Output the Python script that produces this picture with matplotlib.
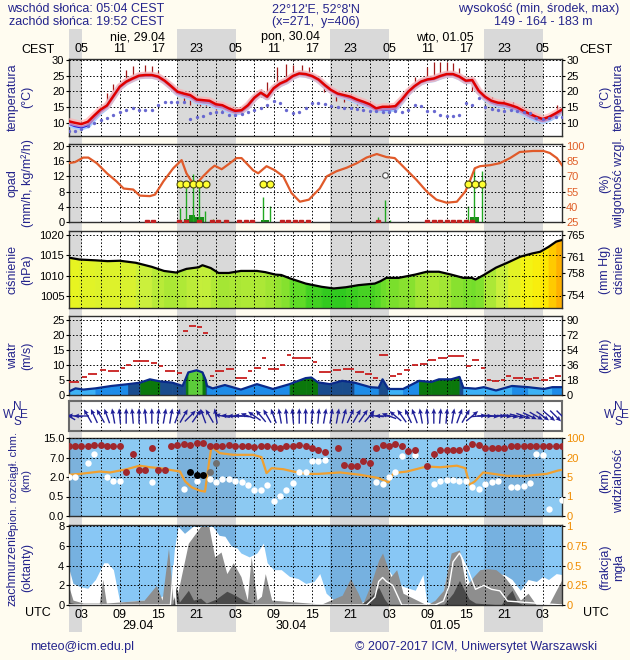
import numpy as np
import matplotlib
matplotlib.use("Agg")
import matplotlib.pyplot as plt
from matplotlib.colors import LinearSegmentedColormap, Normalize, ListedColormap, BoundaryNorm

plt.rcParams['font.family'] = ['Liberation Sans', 'DejaVu Sans']

# ---------------- time axis (hours after 29.04 00 UTC) ----------------
nights = [(0.0, 3.07), (17.87, 27.07), (41.87, 51.07), (65.87, 75.07)]
label_hours = [3, 9, 15, 21, 27, 33, 39, 45, 51, 57, 63, 69, 75]
cest_labels = ['05', '11', '17', '23', '05', '11', '17', '23', '05', '11', '17', '23', '05']
utc_labels = ['03', '09', '15', '21', '03', '09', '15', '21', '03', '09', '15', '21', '03']
day_pos = [11.8, 35.7, 59.7]
day_top = ['nie, 29.04', 'pon, 30.04', 'wto, 01.05']
day_bottom = ['29.04', '30.04', '01.05']

# ---------------- temperature ----------------
hours = np.arange(1, 79)
temp_red = [10.5, 10.0, 9.6, 10.3, 12.3, 14.2, 15.5, 18.5, 21.5, 23.1,
            24.1, 25.0, 25.2, 25.2, 24.7, 23.4, 21.7, 19.9, 19.3, 18.8,
            17.4, 17.2, 17.0, 15.9, 15.6, 14.6, 13.8, 14.0, 15.6, 18.0,
            19.6, 18.3, 21.0, 22.5, 23.4, 24.9, 25.7, 25.5, 24.9, 23.8,
            22.0, 20.4, 19.3, 18.8, 18.3, 17.4, 16.7, 15.9, 14.6, 15.1,
            15.1, 15.3, 17.4, 19.9, 21.7, 23.1, 23.8, 24.1, 24.9, 25.5,
            25.5, 24.7, 23.4, 23.6, 20.2, 18.3, 17.0, 16.4, 16.2, 15.6,
            14.9, 13.8, 12.8, 11.9, 11.2, 11.9, 13.0, 14.2]
temp_blue = [9.8, 9.0, 8.6, 9.2, 11.5, 13.6, 15.2, 18.3, 21.3, 22.9,
             23.9, 24.8, 25.0, 25.0, 24.5, 23.2, 21.5, 19.5, 18.8, 18.2,
             16.9, 16.6, 16.4, 15.3, 15.0, 14.0, 13.3, 13.6, 15.3, 17.8,
             19.4, 18.1, 20.8, 22.3, 23.2, 24.7, 25.5, 25.3, 24.7, 23.6,
             21.8, 20.2, 19.0, 18.4, 17.8, 16.9, 16.1, 15.3, 14.2, 14.3,
             14.3, 14.6, 17.0, 19.6, 21.5, 22.9, 23.6, 23.9, 24.7, 25.3,
             25.3, 24.5, 23.2, 23.4, 20.0, 17.9, 16.5, 15.8, 15.6, 15.0,
             14.3, 13.2, 12.1, 11.2, 10.6, 11.3, 12.4, 13.7]
dew_point = [7.5, 7.3, 8.0, 9.0, 9.8, 10.8, 11.5, 12.5, 13.5, 14.0,
             14.7, 14.2, 14.0, 14.2, 15.6, 16.6, 16.6, 16.6, 16.6, 11.3,
             11.8, 12.2, 13.0, 13.5, 13.5, 12.6, 12.4, 12.8, 13.3, 14.2,
             14.8, 15.6, 16.8, 16.2, 14.0, 13.2, 13.5, 14.8, 16.2, 16.4,
             16.0, 15.2, 15.0, 14.8, 14.6, 14.4, 14.2, 13.8, 13.6, 13.4,
             13.5, 13.6, 13.4, 14.0, 15.6, 15.3, 13.8, 13.8, 12.4, 12.2,
             12.3, 12.5, 16.4, 15.6, 17.8, 14.9, 14.5, 14.2, 13.8, 14.0,
             13.6, 13.4, 13.0, 11.6, 11.3, 11.5, 11.9, 11.9]
spike_h = [7, 8, 10, 11, 13, 14, 15, 19, 20, 21.5, 22.5, 24, 25, 31, 32, 33.5, 35, 36,
           37.5, 38.5, 40.8, 42.8, 44, 46, 55, 57, 58, 59, 60, 61, 62, 64, 65.7, 67,
           68.8, 70.4, 77.2]
spike_lo = [15.9, 19.2, 24.3, 24.3, 25.0, 24.7, 24.4, 16.4, 15.6, 15.5, 15.5, 14.0, 13.8,
            18.3, 18.7, 21.4, 23.0, 25.2, 25.2, 24.7, 19.9, 17.0, 16.7, 15.6, 21.5, 24.2,
            24.7, 25.5, 25.7, 25.7, 24.0, 20.0, 18.3, 16.2, 14.6, 14.6, 13.5]
spike_hi = [19.6, 22.4, 26.9, 28.0, 28.5, 28.0, 26.5, 19.2, 18.8, 17.4, 17.2, 16.2, 15.6,
            20.6, 22.9, 27.8, 28.7, 28.4, 28.4, 27.9, 22.5, 19.9, 18.8, 17.8, 24.7, 27.9,
            29.5, 29.5, 29.5, 28.9, 27.3, 24.0, 19.9, 18.3, 17.2, 16.7, 15.6]

# ---------------- precipitation / humidity ----------------
rh_h = [1.0, 2.0, 3.3, 4.1, 5.4, 7.0, 8.5, 9.6, 11.1, 12.1, 13.7, 14.5, 15.8, 17.35,
        18.65, 19.4, 20.2, 21.0, 22.0, 23.1, 23.8, 24.9, 26.2, 27.2, 28.0, 29.8, 30.6,
        31.9, 33.2, 34.5, 35.8, 37.1, 38.5, 40.2, 41.3, 42.8, 44.4, 46.0, 47.5, 49.1,
        50.6, 51.9, 53.8, 55.3, 56.9, 58.4, 60.0, 61.6, 62.9, 63.6, 64.4, 65.2, 66.8,
        68.3, 69.9, 71.4, 73.5, 75.1, 76.1, 77.2, 78.0]
rh = [83, 84, 88.5, 88.5, 83, 73, 65, 58, 57, 51, 50.5, 52, 65, 78,
      86, 73, 65, 63, 70, 77, 80.5, 77, 83, 88, 88, 76, 73,
      80, 76, 70, 53.5, 45, 47, 58, 70, 75, 78.5, 83, 88.5, 92,
      89, 88, 76, 66.5, 55, 47, 44, 45, 55, 65, 78, 80, 81,
      83, 88, 94, 95, 95, 93, 88, 81]
storm_h = [18.4, 19.4, 20.5, 21.4, 22.4, 31.4, 32.4, 63.4, 64.4, 65.5]
storm_v = [10, 10, 10, 10, 10, 10, 10, 10, 10, 10]
shower_h = [50.4]
shower_v = [12.4]
rain_line_h = [18.4, 19.4, 20.5, 21.4, 22.3, 23.6, 31.4, 32.4, 49.3, 50.4, 51.2, 63.4, 64.3, 65.5]
rain_line_v = [3.8, 8.9, 12.6, 9.4, 3.0, 0.8, 6.7, 4.2, 1.4, 5.8, 0.6, 4.2, 14.3, 13.3]
rain_bar_start = [19.0, 19.8, 20.8, 31.0, 63.6]
rain_bar_end = [19.8, 20.8, 22.2, 32.3, 65.0]
rain_bar_v = [0.8, 1.8, 1.2, 0.6, 1.2]
drizzle_h = [13.2, 14.2, 18.3, 19.3, 21.3, 23.4, 24.4, 25.5, 27.6, 28.7, 29.7, 34.3, 35.3,
             36.3, 37.3, 38.3, 49.3, 57, 58, 59, 60, 61, 62, 63, 64]

# ---------------- pressure ----------------
pres_h = [0.9, 2.7, 5.2, 7.1, 9.0, 11.5, 14.0, 15.9, 17.8, 19.4, 21.3, 21.9, 23.2, 24.4,
          26.0, 27.9, 30.4, 31.7, 33.3, 34.2, 35.5, 38.0, 40.5, 42.4, 44.3, 46.2, 48.8,
          49.7, 50.6, 52.5, 55.1, 56.9, 58.8, 60.7, 62.6, 63.9, 64.5, 65.8, 67.7, 69.6,
          71.5, 73.4, 74.6, 75.9, 77.1, 78.0]
pres = [1014.5, 1014.0, 1013.8, 1013.6, 1013.7, 1013.2, 1012.2, 1011.2, 1010.8, 1011.7,
        1012.1, 1012.6, 1011.9, 1010.7, 1010.7, 1011.2, 1011.2, 1010.9, 1010.3, 1010.2,
        1009.4, 1008.1, 1007.3, 1006.9, 1007.2, 1007.7, 1008.1, 1008.7, 1009.5, 1009.5,
        1010.3, 1011.0, 1011.0, 1010.3, 1009.5, 1009.5, 1009.1, 1010.2, 1012.0, 1013.3,
        1014.7, 1015.5, 1015.9, 1017.1, 1018.4, 1018.8]

# ---------------- wind ----------------
wind_h = [0.9, 2.1, 3.3, 5.2, 7.7, 10.3, 12.2, 13.7, 15.3, 17.2, 18.8, 19.3, 19.7, 21.0,
          21.9, 22.4, 22.6, 23.5, 25.4, 27.9, 30.4, 32.9, 35.5, 38.0, 38.9, 39.9, 41.8,
          43.7, 45.6, 48.1, 49.4, 50.0, 50.9, 53.2, 55.7, 57.6, 58.8, 60.7, 62.0, 62.6,
          64.5, 65.8, 67.7, 70.2, 72.7, 75.2, 76.5, 78.0]
wind = [1.0, 2.2, 1.8, 2.2, 3.0, 3.6, 4.1, 5.2, 4.5, 4.1, 3.0, 5.5, 7.5, 8.2,
        7.5, 5.0, 3.0, 2.2, 3.3, 1.8, 3.6, 2.0, 3.6, 5.6, 5.8, 4.2, 3.6,
        4.7, 4.1, 2.6, 2.4, 5.2, 2.0, 2.0, 4.7, 4.3, 5.2, 5.2, 6.0, 2.4,
        2.1, 2.6, 1.5, 3.0, 2.6, 2.0, 2.6, 2.6]
gust_start = [0.9, 3.0, 4.0, 5.8, 7.0, 9.0, 9.9, 10.9, 13.7, 15.0, 15.9, 17.8, 18.8, 19.7,
              21.0, 21.9, 22.9, 23.8, 25.4, 27.0, 28.9, 29.8, 31.1, 32.0, 33.9, 34.9, 35.8,
              39.0, 39.9, 42.1, 43.7, 45.6, 47.2, 48.4, 49.4, 51.0, 52.2, 53.2, 54.4, 55.7,
              57.0, 58.5, 60.1, 62.9, 63.9, 65.2, 66.1, 67.0, 68.3, 69.2, 70.2, 72.1, 73.4,
              74.6, 75.9, 76.8]
gust_end = [2.7, 4.0, 5.5, 7.0, 9.0, 9.9, 10.9, 13.7, 15.0, 15.9, 17.8, 18.8, 19.7, 21.0,
            21.9, 22.9, 23.8, 25.4, 27.0, 28.9, 29.8, 31.1, 32.0, 33.9, 34.9, 35.8, 39.0,
            39.9, 42.1, 43.7, 45.6, 47.2, 48.4, 49.4, 51.0, 52.2, 53.2, 54.4, 55.7, 57.0,
            58.5, 60.1, 62.9, 63.9, 65.2, 66.1, 67.0, 68.3, 69.2, 70.2, 72.1, 73.4, 74.6,
            75.9, 76.8, 78.0]
gust = [4.3, 6.0, 6.9, 8.3, 8.0, 9.1, 10.0, 11.4, 10.6, 9.7, 7.8, 7.2, 21.2, 23.0,
        22.6, 20.5, 6.2, 7.8, 8.6, 5.8, 7.8, 8.9, 12.3, 8.6, 10.0, 13.3, 12.3,
        10.8, 7.6, 8.2, 8.6, 7.6, 7.1, 5.8, 13.3, 6.2, 7.1, 8.4, 9.9, 10.2,
        11.6, 12.2, 13.0, 9.7, 11.6, 8.9, 5.0, 4.6, 5.0, 6.2, 5.8, 5.4, 5.8,
        5.0, 5.8, 6.3]
# direction the arrow points, degrees counter-clockwise from east, hourly
wind_dir = [150, 175, 180, 120, 115, 120, 110, 100, 95, 90,
            95, 90, 95, 90, 85, 80, 80, 70, 60, 45,
            55, 110, 120, 100, 170, 175, 180, 175, 160, 145,
            130, 120, 110, 100, 95, 95, 90, 90, 85, 85,
            80, 80, 80, 75, 65, 60, 55, 50, 175, 180,
            160, 140, 125, 115, 110, 100, 95, 90, 85, 85,
            80, 70, 60, 40, 5, 0, -5, 0, -5, -10,
            -15, -20, -25, -30, -35, -40, -45, -45]

# ---------------- cloud extent / visibility ----------------
vis_h = [1.0, 2.8, 5.9, 7.5, 10.1, 12.1, 13.7, 15.3, 16.8, 18.4, 19.2, 20.2, 21.5, 22.3,
         22.8, 23.3, 24.6, 26.7, 29.8, 31.1, 31.9, 32.7, 34.5, 36.1, 38.1, 40.0, 43.4,
         46.5, 48.0, 49.3, 50.9, 51.7, 53.8, 56.9, 59.0, 61.6, 62.9, 63.6, 64.4, 65.7,
         67.3, 69.4, 72.5, 75.6, 77.4, 78.0]
vis_km = [6.7, 7.4, 9.2, 8.5, 11.0, 13.7, 12.5, 11.8, 10.5, 9.2, 4.1, 2.9, 2.2, 2.0,
          11.8, 65, 38, 31, 31, 21.6, 8.0, 11.8, 11.0, 9.2, 7.4, 7.4, 8.5,
          6.7, 5.4, 4.8, 3.9, 8.0, 9.2, 13.1, 12.5, 13.7, 11.8, 3.4, 4.1, 8.5,
          7.4, 5.9, 5.9, 7.4, 10.0, 10.5]
top_h = list(range(1, 42)) + [43, 44, 45, 46, 47, 48, 49, 50, 51, 52, 53, 54, 55] + list(range(57, 79))
top_km = [11.6, 11.6, 11.6, 11.6, 12.3, 12.3, 11.6, 11.6, 11.6, 3.2,
          8.5, 3.7, 3.8, 10.9, 3.8, 3.7, 11.6, 12.3, 12.7, 12.3,
          12.9, 12.9, 11.9, 11.6, 11.9, 12.3, 11.6, 11.9, 11.6, 11.3,
          11.6, 11.9, 11.3, 10.9, 11.9, 11.9, 12.3, 11.6, 10.9, 10.2,
          9.1,
          10.9, 5.1, 4.9, 4.7, 6.0, 5.7, 10.9, 12.3, 11.6, 12.7, 11.6, 9.5, 9.9,
          4.9, 8.5, 9.9, 10.2, 10.2, 10.2, 10.9, 12.7, 12.0, 10.9, 10.9, 10.9,
          10.9, 11.6, 11.6, 11.6, 11.6, 11.6, 11.6, 11.6, 11.6, 11.6]
base_h = [1, 2, 4, 5, 7, 8, 9, 14, 19, 21, 23, 24, 25, 26, 27, 28, 29, 30, 31, 32, 33, 34,
          35, 36, 37, 38, 39, 40, 41, 49, 50, 51, 52, 53, 55, 58, 59, 60, 61, 62, 63, 64,
          65, 66, 67, 68, 70, 71, 72, 73, 74, 75, 76, 78]
base_km = [2.0, 2.0, 5.6, 8.4, 2.1, 1.73, 1.73, 1.58, 1.06, 1.73, 1.83, 1.6, 1.83, 1.83,
           1.73, 1.58, 1.4, 1.01, 1.01, 1.4, 0.39, 0.55, 1.01, 1.52, 3.2, 3.2, 6.0, 6.0,
           6.4, 1.58, 1.45, 2.1, 3.2, 7.5, 8.1, 1.48, 1.66, 1.78, 1.78, 1.73, 1.66, 1.22,
           1.06, 1.48, 1.58, 1.73, 1.22, 1.22, 1.32, 1.52, 8.5, 8.1, 0.17, 0.41]
dark_h = [20, 21, 22]
dark_km = [3.2, 2.6, 2.5]
grey_h = [23, 24]
grey_km = [3.2, 5.6]

# ---------------- cloud cover ----------------
cl_high_h = [0.9, 1.7, 2.7, 4.0, 5.2, 6.5, 7.1, 8.0, 9.0, 10.9, 12.8, 14.7, 15.9, 16.9,
             17.5, 18.1, 19.1, 20.4, 21.6, 23.5, 24.5, 25.4, 26.4, 27.3, 27.9, 29.2, 30.4,
             31.4, 32.0, 33.0, 34.2, 35.5, 36.8, 38.0, 39.3, 40.2, 41.2, 42.4, 44.3, 46.9,
             48.1, 49.4, 50.6, 51.6, 52.5, 53.2, 55.1, 56.3, 56.9, 58.2, 59.5, 60.4, 61.0,
             62.0, 62.6, 63.3, 64.5, 65.8, 66.4, 67.7, 69.0, 70.2, 71.5, 72.7, 74.0, 75.0,
             75.9, 77.1, 78.0]
cl_high = [4.1, 2.2, 1.9, 1.7, 2.6, 4.3, 4.3, 3.6, 0.3, 0.4, 0.5, 0.6, 1.0, 0.5,
           5.6, 8.0, 7.3, 8.0, 8.0, 8.0, 7.1, 7.0, 6.0, 5.8, 5.3, 4.9, 5.3,
           6.3, 4.3, 3.6, 3.6, 2.9, 2.7, 2.2, 2.4, 3.2, 1.2, 0.5, 0.3, 0.3,
           0.7, 3.2, 3.9, 2.9, 2.2, 1.9, 1.5, 3.1, 0.3, 0.2, 1.5, 4.3, 5.3,
           5.4, 4.6, 2.7, 0.9, 1.9, 3.4, 3.2, 3.1, 2.6, 1.5, 2.6, 2.4, 2.9,
           2.6, 3.2, 3.1]
cl_mid_h = [0.9, 1.7, 3.3, 5.8, 6.35, 6.9, 12.8, 14.7, 15.6, 16.6, 17.3, 18.1, 19.7, 21.6,
            22.9, 23.8, 24.8, 25.7, 26.7, 27.9, 28.9, 29.5, 30.4, 31.1, 31.7, 32.7, 40.5,
            43.7, 45.0, 46.2, 46.9, 48.1, 49.4, 50.0, 51.3, 52.2, 53.2, 56.9, 58.2, 59.5,
            60.7, 62.0, 63.0, 64.2, 65.2, 66.4, 67.7, 69.0, 70.2, 71.5, 72.7, 74.0, 75.9,
            77.1, 78.0]
cl_mid = [2.2, 0.5, 0.2, 0.2, 2.6, 0.2, 0.5, 2.0, 0.5, 5.8, 0.5, 1.4, 6.3, 8.0,
          8.0, 4.9, 5.4, 3.2, 4.3, 2.9, 0.5, 4.9, 0.5, 0.9, 3.2, 0.5, 0.1,
          1.0, 2.7, 1.2, 0.1, 2.0, 4.6, 5.3, 2.9, 3.6, 1.2, 0.0, 0.5, 1.5,
          5.3, 5.6, 1.9, 2.9, 3.6, 3.7, 3.6, 2.9, 1.9, 0.5, 1.2, 0.0, 0.0,
          1.5, 2.6]
cl_low_h = [0.9, 3.0, 17.3, 17.8, 18.3, 19.7, 20.5, 21.6, 22.5, 24.0, 25.7, 27.0, 28.5,
            30.0, 46.5, 48.1, 49.4, 50.3, 51.0, 59.5, 61.0, 62.0, 63.5, 64.5, 68.5, 69.5,
            70.2, 71.0, 72.0, 78.0]
cl_low = [0.3, 0.0, 0.0, 1.9, 0.3, 1.5, 0.5, 0.7, 0.2, 0.6, 1.4, 1.0, 0.4,
          0.1, 0.0, 0.8, 1.8, 0.6, 0.0, 0.0, 1.2, 2.5, 0.6, 0.2, 0.0, 1.0,
          1.5, 0.3, 0.0, 0.0]
fog_h = [1, 16.9, 17.4, 17.8, 40, 47.5, 48.8, 49.4, 50.0, 50.6, 51.6, 53, 58.2, 59.5,
         60.4, 61.0, 62.0, 63.3, 64.5, 65.8, 67.0, 68.3, 69.5, 78]
fog = [0, 0, 0.5, 0, 0, 0, 0.1, 0.3, 0.35, 0.3, 0.25, 0, 0, 0.05,
       0.25, 0.55, 0.66, 0.45, 0.2, 0.25, 0.2, 0.18, 0.05, 0]

# ================= drawing =================
W, H = 630, 660
BG = '#FFFCF0'
NAVY = '#24248C'
NIGHT = '#D9D9D9'
X0, X1 = 68.5, 562.0
T0, T1 = 1.0, 78.0

fig = plt.figure(figsize=(W / 100, H / 100), dpi=100, facecolor=BG)


def rect(top, bottom):
    return [X0 / W, 1 - bottom / H, (X1 - X0) / W, (bottom - top) / H]


def ftext(x, y, s, **kw):
    kw.setdefault('ha', 'center')
    kw.setdefault('va', 'center')
    kw.setdefault('fontsize', 9)
    fig.text(x / W, 1 - y / H, s, **kw)


bg = fig.add_axes(rect(29, 632))
bg.set_xlim(T0, T1)
bg.set_ylim(0, 1)
bg.axis('off')
for a, b in nights:
    bg.axvspan(a, b, color=NIGHT, lw=0)


def panel(top, bottom, ylim, yticks, face='white', night=NIGHT, scale=None):
    ax = fig.add_axes(rect(top, bottom))
    ax.set_facecolor(face)
    if scale is not None:
        ax.set_yscale('function', functions=scale)
    ax.set_xlim(T0, T1)
    ax.set_ylim(*ylim)
    for a, b in nights:
        ax.axvspan(a, b, color=night, lw=0, zorder=0)
    ax.set_xticks(label_hours)
    ax.set_xticks(np.arange(6, 78, 6), minor=True)
    ax.set_yticks(yticks)
    ax.yaxis.set_minor_locator(matplotlib.ticker.NullLocator())
    ax.tick_params(axis='x', which='both', length=0, labelbottom=False)
    ax.tick_params(axis='y', length=2, labelsize=8, pad=1)
    ax.grid(True, which='both', color='black', ls=(0, (1.5, 2)), lw=0.7)
    ax.set_axisbelow(False)
    for s in ax.spines.values():
        s.set_color('#303030')
        s.set_linewidth(1)
    return ax


def right(ax, ylim, ticks, labels, color='black', scale=None):
    r = ax.twinx()
    if scale is not None:
        r.set_yscale('function', functions=scale)
    r.set_ylim(*ylim)
    r.set_yticks(ticks)
    r.yaxis.set_minor_locator(matplotlib.ticker.NullLocator())
    r.set_yticklabels(labels, color=color)
    r.tick_params(axis='y', length=2, labelsize=8, pad=1)
    r.set_xlim(T0, T1)
    for s in r.spines.values():
        s.set_visible(False)
    return r


def side_labels(y, left, right_txt, size=9):
    ftext(20, y, left, rotation=90, color=NAVY, linespacing=1.25, fontsize=size)
    ftext(612, y, right_txt, rotation=90, color=NAVY, linespacing=1.25)


# ---- temperature
ax = panel(59, 136, (5.8, 30.3), [10, 15, 20, 25, 30])
ax.vlines(spike_h, spike_lo, spike_hi, color='#A01818', lw=0.9, zorder=3)
ax.plot(hours, temp_blue, color='#A8CCFF', lw=4.5, zorder=3, solid_capstyle='butt')
ax.plot(hours, temp_blue, color='#1010E0', lw=1.8, zorder=3)
ax.plot(hours, temp_red, color='#FFB0B0', lw=5, alpha=0.7, zorder=3, solid_capstyle='butt')
ax.plot(hours, temp_red, color='#E00000', lw=1.8, zorder=3)
ax.plot(hours, dew_point, 'o', ms=2.4, color='#6868D0', mec='none', zorder=3)
ax.tick_params(axis='x', which='major', labeltop=True, labelsize=9, pad=3)
ax.set_xticklabels(cest_labels)
for h, s in zip(day_pos, day_top):
    ax.text(h, 1 + 22 / 77, s, transform=ax.get_xaxis_transform(), ha='center',
            va='center', fontsize=9)
right(ax, (5.8, 30.3), [10, 15, 20, 25, 30], ['10', '15', '20', '25', '30'])
side_labels(97, 'temperatura\n(°C)', '(°C)\ntemperatura')

# ---- precipitation / humidity
ax = panel(144, 222, (0, 20.5), [0, 4, 8, 12, 16, 20])
ax.bar(rain_bar_start, rain_bar_v, width=np.subtract(rain_bar_end, rain_bar_start),
       align='edge', color='#189018', zorder=2)
ax.vlines(rain_line_h, 0, rain_line_v, color='#22A822', lw=1, zorder=2)
ax.plot(drizzle_h, [0.12] * len(drizzle_h), 's', ms=2.4, color='#C02020', zorder=3)
r = right(ax, (25, 25 + 3.75 * 20.5), [25, 40, 55, 70, 85, 100],
          ['25', '40', '55', '70', '85', '100'], color='#E0602A')
r.plot(rh_h, rh, color='#E05A2A', lw=1.6)
r.plot(storm_h, storm_v, 'o', ms=5, mfc='#FFFF30', mec='#4A4A10', mew=0.8,
       transform=ax.transData)
r.plot(shower_h, shower_v, 'o', ms=4, mfc='white', mec='#505050', mew=0.8,
       transform=ax.transData)
side_labels(183, 'opad\n(mm/h, kg/m²/h)', '(%)\nwilgotność wzgl.')

# ---- pressure
ax = panel(231, 308, (1002.1, 1021), [1005, 1010, 1015, 1020])
pcmap = LinearSegmentedColormap.from_list(
    'pres', ['#22C41C', '#5ADA26', '#A4E634', '#CCF03C', '#F2F516', '#FFE400', '#FFA400'])
pnorm = Normalize(1006.5, 1019)
for i in range(len(pres_h) - 1):
    c = pcmap(pnorm((pres[i] + pres[i + 1]) / 2))
    ax.fill_between(pres_h[i:i + 2], 1000, pres[i:i + 2], color=c, ec=c, lw=0.6, zorder=1)
ax.plot(pres_h, pres, color='black', lw=1.6, zorder=3)
mm = [765, 761, 758, 754]
right(ax, (1002.1, 1021), np.array(mm) / 0.750062, [str(v) for v in mm])
side_labels(269.5, 'ciśnienie\n(hPa)', '(mm Hg)\nciśnienie')

# ---- wind speed
ax = panel(316, 395, (0, 26.2), [0, 5, 10, 15, 20, 25])
wcmap = ListedColormap(['#3CB2F6', '#1E8CE8', '#1A4C8C', '#0B780B', '#5CCB3A', '#98F266'])
wnorm = BoundaryNorm([0, 2.5, 3.4, 4.5, 7.0, 8.0, 40], wcmap.N)
for i in range(len(wind_h) - 1):
    c = wcmap(wnorm((wind[i] + wind[i + 1]) / 2))
    ax.fill_between(wind_h[i:i + 2], 0, wind[i:i + 2], color=c, ec=c, lw=0.6, zorder=1)
ax.plot(wind_h, wind, color='#0A2A8A', lw=1.6, zorder=3)
ax.hlines(gust, np.add(gust_start, 0.12), np.subtract(gust_end, 0.12),
          color='#C81E1E', lw=1.3, zorder=3)
right(ax, (0, 26.2 * 3.6), [0, 18, 36, 54, 72, 90], ['0', '18', '36', '54', '72', '90'])
side_labels(355.5, 'wiatr\n(m/s)', '(km/h)\nwiatr')

# ---- wind direction
ax = panel(401, 431, (-1, 1), [])
ax.grid(False, axis='y')
for s in ax.spines.values():
    s.set_color('#6A6A6A')
    s.set_linewidth(1.5)
ang = np.radians(wind_dir)
ax.quiver(hours, np.zeros(len(hours)), np.cos(ang), np.sin(ang), angles='uv',
          pivot='middle', scale_units='inches', scale=6.5, width=0.0028,
          headwidth=3.5, headlength=4, headaxislength=3.5, color='#202098', zorder=3)
for x0 in (9, 610):
    ftext(x0, 415, 'W', fontsize=8.5, color=NAVY)
    ftext(x0 + 8, 407, 'N', fontsize=8.5, color=NAVY)
    ftext(x0 + 15, 415, 'E', fontsize=8.5, color=NAVY)
    ftext(x0 + 8, 422, 'S', fontsize=8.5, color=NAVY)

# ---- cloud vertical extent / visibility
base_vals = [0, 0.5, 2, 7, 15]
vis_vals = [0, 1, 5, 20, 100]
idx = [0, 1, 2, 3, 4]
base_scale = (lambda v: np.interp(v, base_vals, idx), lambda i: np.interp(i, idx, base_vals))
vis_scale = (lambda v: np.interp(v, vis_vals, idx), lambda i: np.interp(i, idx, vis_vals))
ax = panel(438, 516, (0, 15), base_vals, face='#8CC9F2', night='#7CB2DC', scale=base_scale)
ax.set_yticklabels(['0.0', '0.5', '2.0', '7.0', '15.0'])
r = right(ax, (0, 100), vis_vals, ['0', '1', '5', '20', '100'], color='#F08C00',
          scale=vis_scale)
r.plot(vis_h, vis_km, color='#F0A030', lw=1.6)
r.plot(base_h, base_km, 'o', ms=4.6, color='white', mec='none', transform=ax.transData)
r.plot(top_h, top_km, 'o', ms=5, color='#A0282D', mec='none', transform=ax.transData)
r.plot(dark_h, dark_km, 'o', ms=5, color='black', mec='none', transform=ax.transData)
r.plot(grey_h, grey_km, 'o', ms=5, color='#707070', mec='none', transform=ax.transData)
side_labels(481, 'pion. rozciągł. chm.\n(km)', '(km)\nwidzialność', size=8.2)

# ---- cloud cover
ax = panel(525, 605, (0, 8.15), [0, 2, 4, 6, 8], face='#88C7F5', night='#76B1E0')
ax.fill_between(cl_high_h, 0, cl_high, color='white', lw=0, zorder=1)
ax.fill_between(cl_mid_h, 0, cl_mid, color='#8E8E8E', lw=0, zorder=1)
ax.fill_between(cl_low_h, 0, cl_low, color='#4A4A4A', lw=0, zorder=1)
r = right(ax, (0, 8.15 / 8), [0, 0.25, 0.5, 0.75, 1], ['0', '0.25', '0.5', '0.75', '1'],
          color='#F08C00')
r.plot(fog_h, fog, color='white', lw=1)
ax.tick_params(axis='x', which='major', labelbottom=True, labelsize=9, pad=3)
ax.set_xticklabels(utc_labels)
for h, s in zip(day_pos, day_bottom):
    ax.text(h, -(626 - 605) / 80, s, transform=ax.get_xaxis_transform(), ha='center',
            va='center', fontsize=9)
side_labels(567, 'zachmurzenie\n(oktanty)', '(frakcja)\nmgła')

# ---- header / footer
ftext(7, 9, 'wschód słońca: 05:04 CEST', ha='left', color=NAVY)
ftext(9, 22, 'zachód słońca: 19:52 CEST', ha='left', color=NAVY)
ftext(316, 9, "22°12'E, 52°8'N", color=NAVY)
ftext(316, 22, '(x=271,  y=406)', color=NAVY)
ftext(619, 9, 'wysokość (min, środek, max)', ha='right', color=NAVY)
ftext(543, 22, '149 - 164 - 183 m', color=NAVY)
ftext(38, 50, 'CEST')
ftext(596, 50, 'CEST')
ftext(38, 613, 'UTC')
ftext(596, 613, 'UTC')
ftext(30, 647, 'meteo@icm.edu.pl', ha='left', color=NAVY)
ftext(597, 647, '© 2007-2017 ICM, Uniwersytet Warszawski', ha='right', color=NAVY)

fig.savefig('out.png', dpi=100, facecolor=BG)
